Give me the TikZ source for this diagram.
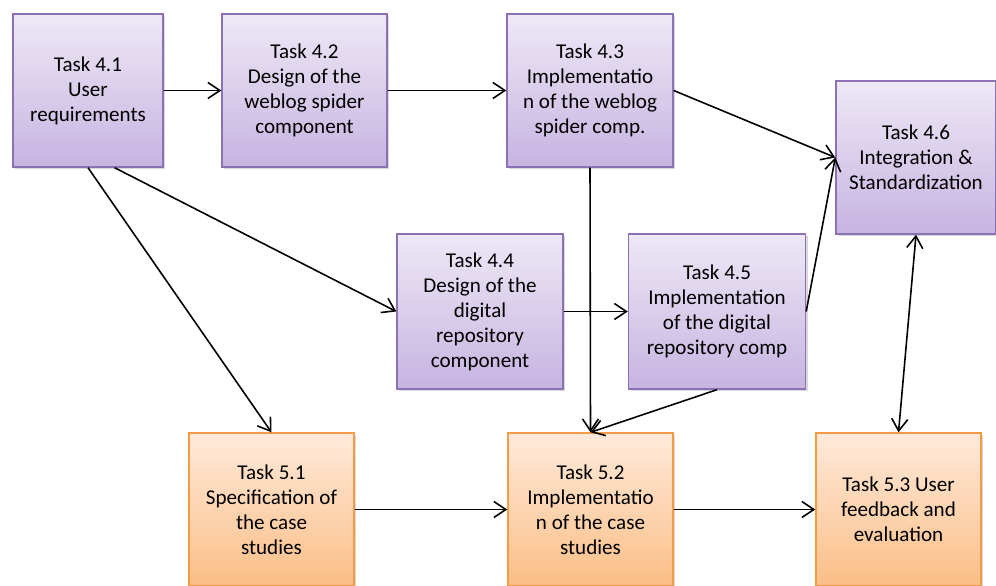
\documentclass[tikz,border=0pt]{standalone}
\usepackage{fontspec}
\setmainfont{Carlito}
\usetikzlibrary{arrows.meta,shadows}
\definecolor{wpfourtop}{HTML}{EEE8F6}
\definecolor{wpfourbot}{HTML}{C6B4E1}
\definecolor{wpfourline}{HTML}{8C72B4}
\definecolor{wpfivetop}{HTML}{FEEADB}
\definecolor{wpfivebot}{HTML}{FBBE86}
\definecolor{wpfiveline}{HTML}{F59A45}
\begin{document}
\begin{tikzpicture}[x=0.02cm,y=-0.02cm,
  task/.style={rectangle, align=center, inner sep=2pt, line width=0.8pt, minimum height=3.06cm,
    font=\fontsize{12}{14.2}\selectfont,
    drop shadow={shadow xshift=1.2pt, shadow yshift=-1.2pt, opacity=0.3}},
  wpfour/.style={task, draw=wpfourline, top color=wpfourtop, bottom color=wpfourbot},
  wpfive/.style={task, draw=wpfiveline, top color=wpfivetop, bottom color=wpfivebot},
  barb/.tip={Straight Barb[length=2.4mm,width=3.2mm]},
  flow/.style={-barb, line width=0.9pt},
  twoway/.style={barb-barb, line width=0.9pt}]
\useasboundingbox (0,0) rectangle (996,585);
% work package 4
\node[wpfour, minimum width=3cm] (t41) at (88,90.5){Task 4.1\\User\\requirements};
\node[wpfour, minimum width=3.3cm] (t42) at (304.5,90.5){Task 4.2\\Design of the\\weblog spider\\component};
\node[wpfour, minimum width=3.32cm] (t43) at (590,90.5){Task 4.3\\Implementatio\\n of the weblog\\spider comp.};
\node[wpfour, minimum width=3.32cm, minimum height=3.1cm] (t44) at (480,311.5){Task 4.4\\Design of the\\digital\\repository\\component};
\node[wpfour, minimum width=3.54cm, minimum height=3.1cm] (t45) at (717,311.5){Task 4.5\\Implementation\\of the digital\\repository comp};
\node[wpfour, minimum width=3.2cm] (t46) at (916,157.5){Task 4.6\\Integration \&\\Standardization};
% work package 5
\node[wpfive, minimum width=3.3cm] (t51) at (271.5,509.5){Task 5.1\\Specification of\\the case\\studies};
\node[wpfive, minimum width=3.3cm] (t52) at (590.5,509.5){Task 5.2\\Implementatio\\n of the case\\studies};
\node[wpfive, minimum width=3.3cm] (t53) at (898.5,509.5){Task 5.3 User\\feedback and\\evaluation};
% dependencies
\draw[flow](t41) -- (t42);
\draw[flow](t42) -- (t43);
\draw[flow](t43.east) -- (t46.west);
\draw[flow](t41.-71) -- (t44.west);
\draw[flow](t41.south) -- (t51.north);
\draw[flow](t43.south) -- (t52.north);
\draw[flow](t44) -- (t45);
\draw[flow](t45.south) -- (t52.north);
\draw[flow](t45.east) -- (t46.west);
\draw[flow](t51) -- (t52);
\draw[flow](t52) -- (t53);
\draw[twoway](t46.south) -- (t53.north);
\end{tikzpicture}
\end{document}
